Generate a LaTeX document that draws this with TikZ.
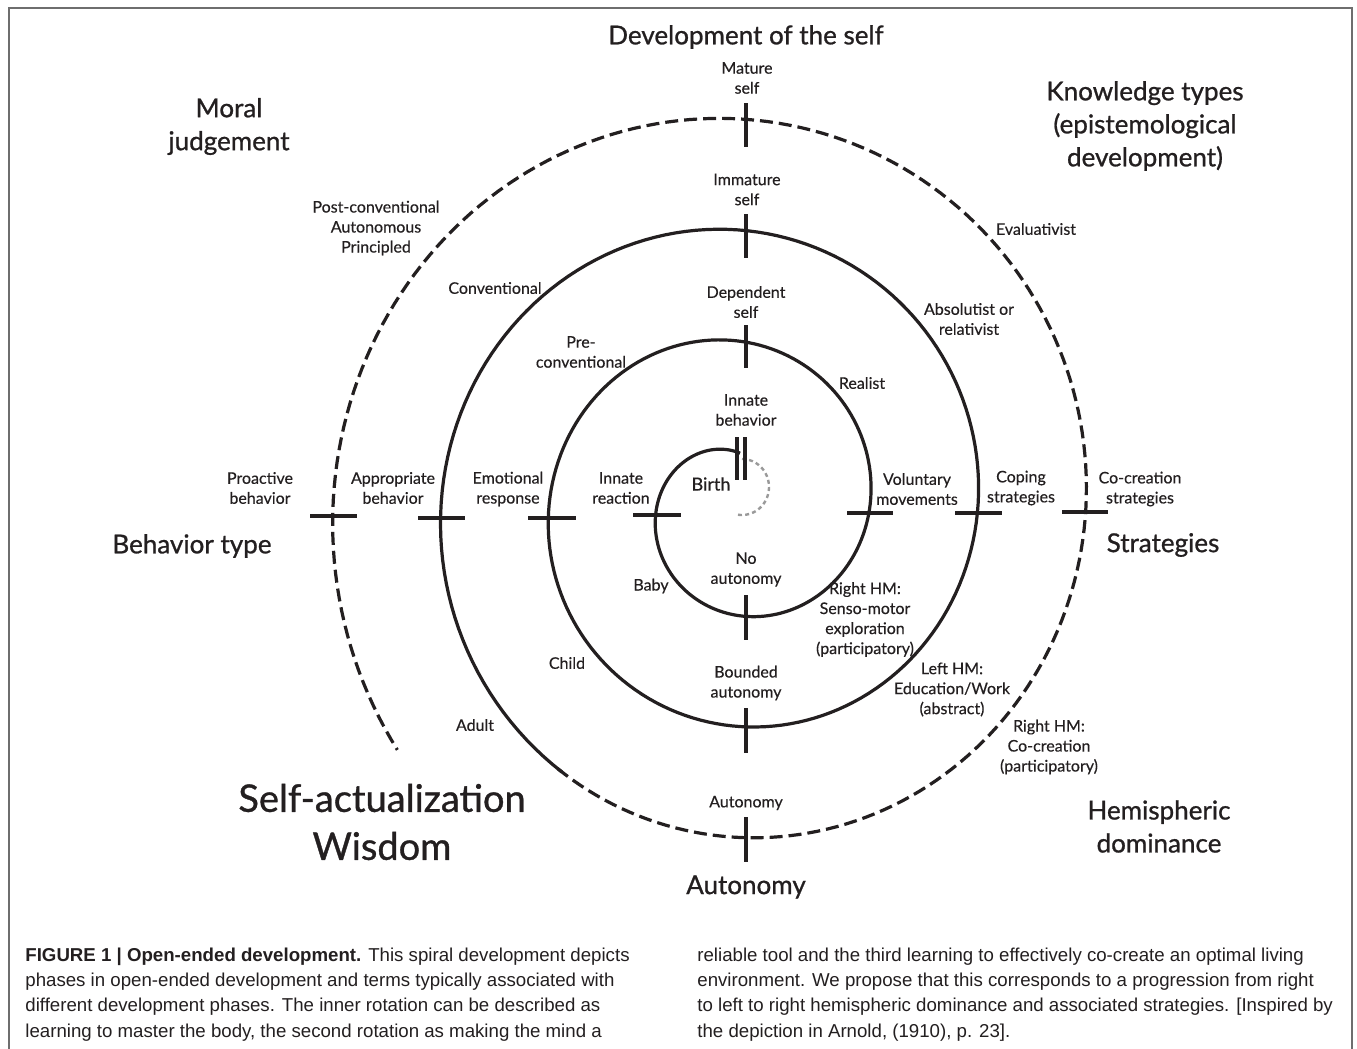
\documentclass[tikz,border=0pt]{standalone}
\usepackage{fontspec}
\setmainfont{Lato}
\newfontfamily\lblfont{Lato}[FakeBold=0.3]
\newfontfamily\headfont{Lato}[FakeBold=0.9]
\newfontfamily\capfont{Liberation Sans}
\definecolor{ink}{HTML}{231F20}
\definecolor{framegray}{HTML}{6E6E6E}
\definecolor{dotgray}{HTML}{9A9A9A}
\tikzset{
  lbl/.style={font=\lblfont\fontsize{8}{10}\selectfont, align=center, text=ink, inner sep=0pt},
  birthlbl/.style={font=\lblfont\fontsize{9}{11}\selectfont, align=center, text=ink, inner sep=0pt},
  head/.style={font=\headfont\fontsize{13}{16.5}\selectfont, align=center, text=ink, inner sep=0pt},
  bighead/.style={font=\headfont\fontsize{19}{24}\selectfont, align=center, text=ink, inner sep=0pt},
  capline/.style={font=\capfont\fontsize{9.33}{12}\selectfont, text=ink, inner sep=0pt, anchor=base west},
  spiralline/.style={line width=1.6pt, draw=ink},
  spiraldash/.style={line width=1.6pt, draw=ink, dash pattern=on 6.5pt off 3pt},
  tickline/.style={line width=1.6pt, draw=ink},
  innerdots/.style={line width=1.2pt, draw=dotgray, dash pattern=on 2pt off 1.6pt}
}
\begin{document}
\begin{tikzpicture}[x=0.5pt,y=-0.5pt]
\useasboundingbox (0,0) rectangle (1357,1049);
\fill[white] (0,0) rectangle (1357,1049);
% frame
\draw[framegray, line width=0.8pt] (9,1049) -- (9,8) -- (1352,8) -- (1352,1049);

% spiral: solid part then dashed part
\draw[spiralline] plot[domain=86:956, samples=400, variable=\t]
  ({736.5+(52.5+0.3*(\t-90))*cos(\t)}, {505.8-1.028*(52.5+0.3*(\t-90))*sin(\t)});
\draw[spiraldash] plot[domain=955:1295, samples=200, variable=\t]
  ({736.5+(52.5+0.3*(\t-90))*cos(\t)}, {505.8-1.028*(52.5+0.3*(\t-90))*sin(\t)});

% inner grey dotted arc
\draw[innerdots] plot[domain=90:-100, samples=60, variable=\t]
  ({742+27*cos(\t)}, {487-28*sin(\t)});

% double tick at birth
\draw[tickline] (737,437) -- (737,480);
\draw[tickline] (745,437) -- (745,480);

% vertical ticks
\draw[tickline] (746,103) -- (746,147);
\draw[tickline] (746,214) -- (746,258);
\draw[tickline] (746,325) -- (746,368);
\draw[tickline] (746,595) -- (746,640);
\draw[tickline] (746,708) -- (746,753);
\draw[tickline] (746,817) -- (746,862);

% horizontal ticks
\draw[tickline] (310,516) -- (357,516);
\draw[tickline] (418,518) -- (465,518);
\draw[tickline] (528,518) -- (576,518);
\draw[tickline] (633,515) -- (681,515);
\draw[tickline] (847,513) -- (893,513);
\draw[tickline] (955,513) -- (1002,513);
\draw[tickline] (1062,512) -- (1108,512);

% headings
\node[head] (dev) at (746,37) {Development of the self};
\node[head] (moral) at (229,126.5) {Moral\\judgement};
\node[head] (know) at (1145,126) {Knowledge types\\(epistemological\\development)};
\node[head] (behav) at (192,546) {Behavior type};
\node[head] (strat) at (1163,545) {Strategies};
\node[head] (hemi) at (1159,826.5) {Hemispheric\\dominance};
\node[head] (autohead) at (746,887) {Autonomy};
\node[bighead] (wisdom) at (382,822) {Self-actualization\\Wisdom};

% small labels
\node[lbl] (mature) at (747,78) {Mature\\self};
\node[lbl] (immature) at (747,189.5) {Immature\\self};
\node[lbl] (dependent) at (746,302) {Dependent\\self};
\node[lbl] (innateb) at (746,410) {Innate\\behavior};
\node[birthlbl] (birth) at (711,484) {Birth};
\node[lbl] (noauto) at (746,569.5) {No\\autonomy};
\node[lbl] (bounded) at (746,683) {Bounded\\autonomy};
\node[lbl] (autosmall) at (746,803) {Autonomy};
\node[lbl] (innater) at (621,488) {Innate\\reaction};
\node[lbl] (emo) at (508,489) {Emotional\\response};
\node[lbl] (approp) at (393,488) {Appropriate\\behavior};
\node[lbl] (proact) at (260,488) {Proactive\\behavior};
\node[lbl] (volun) at (917,489) {Voluntary\\movements};
\node[lbl] (coping) at (1021,488) {Coping\\strategies};
\node[lbl] (cocre) at (1140,489) {Co-creation\\strategies};
\node[lbl] (precon) at (581,352) {Pre-\\conventional};
\node[lbl] (conv) at (495,288) {Conventional};
\node[lbl] (postconv) at (376,228) {Post-conventional\\Autonomous\\Principled};
\node[lbl] (realist) at (862,383) {Realist};
\node[lbl] (absol) at (969,319) {Absolutist or\\relativist};
\node[lbl] (evalu) at (1036,229) {Evaluativist};
\node[lbl] (baby) at (651,586) {Baby};
\node[lbl] (child) at (567,663) {Child};
\node[lbl] (adult) at (475,725) {Adult};
\node[lbl] (rhmone) at (865,619.5) {Right HM:\\Senso-motor\\exploration\\(participatory)};
\node[lbl] (lhm) at (952,689.5) {Left HM:\\Education/Work\\(abstract)};
\node[lbl] (rhmtwo) at (1049,747) {Right HM:\\Co-creation\\(participatory)};

% caption
\node[capline] (capA) at (25,961) {\bfseries FIGURE 1 | Open-ended development.\mdseries{} This spiral development depicts};
\node[capline] (capB) at (25,986) {phases in open-ended development and terms typically associated with};
\node[capline] (capC) at (25,1011.5) {different development phases. The inner rotation can be described as};
\node[capline] (capD) at (25,1037) {learning to master the body, the second rotation as making the mind a};
\node[capline] (capE) at (697,961) {reliable tool and the third learning to effectively co-create an optimal living};
\node[capline] (capF) at (697,986) {environment. We propose that this corresponds to a progression from right};
\node[capline] (capG) at (697,1011.5) {to left to right hemispheric dominance and associated strategies. [Inspired by};
\node[capline] (capH) at (697,1037) {the depiction in Arnold, (1910), p. 23].};
\end{tikzpicture}
\end{document}
